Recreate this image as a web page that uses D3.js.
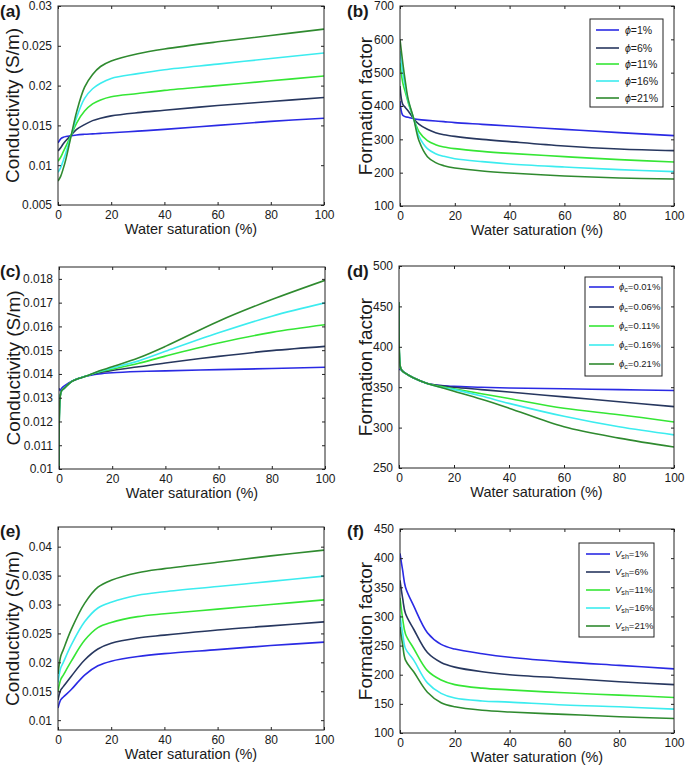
<!DOCTYPE html>
<html><head><meta charset="utf-8">
<script src="https://cdn.jsdelivr.net/npm/d3@7"></script>
<style>
body{margin:0;background:#fff}
text{font-family:"Liberation Sans",Arial,Helvetica,sans-serif;fill:#1a1a1a}
</style>
</head><body>
<svg id="chart" width="685" height="765"></svg>
<script>
// ---------- data ----------
const xTicks = [0, 20, 40, 60, 80, 100];

// (a) & (b): varying porosity
const swAB = [0, 1, 2, 3, 5, 7, 10, 13, 16, 20, 30, 40, 60, 80, 100];
const aPhi1  = [0.0128, 0.0133, 0.0135, 0.0136, 0.0137, 0.01380, 0.01388, 0.01394, 0.01400, 0.01408, 0.01428, 0.0145, 0.0150, 0.0155, 0.0159];
const aPhi6  = [0.0118, 0.0122, 0.0127, 0.0131, 0.0138, 0.0145, 0.0151, 0.0156, 0.0159, 0.0162, 0.0166, 0.0169, 0.0175, 0.0180, 0.0185];
const aPhi11 = [0.0105, 0.0110, 0.0117, 0.0124, 0.0138, 0.0153, 0.0168, 0.0177, 0.0182, 0.0186, 0.0190, 0.0194, 0.0200, 0.0206, 0.0212];
const aPhi16 = [0.0091, 0.0097, 0.0106, 0.0116, 0.0138, 0.0160, 0.0184, 0.0196, 0.0203, 0.0209, 0.0215, 0.0220, 0.0227, 0.0234, 0.0241];
const aPhi21 = [0.0080, 0.0086, 0.0096, 0.0108, 0.0138, 0.0167, 0.0198, 0.0214, 0.0224, 0.0231, 0.0240, 0.0246, 0.0255, 0.0263, 0.0271];
const aYTicks = [0.005, 0.01, 0.015, 0.02, 0.025, 0.03];

const bPhi1  = [415, 372, 368, 366, 362, 359, 357, 355, 353, 350, 345, 340, 330, 320, 311];
const bPhi6  = [460, 405, 395, 385, 362, 345, 330, 320, 314, 309, 300, 293, 280, 271, 266];
const bPhi11 = [530, 470, 440, 410, 362, 322, 296, 284, 277, 272, 264, 258, 248, 239, 232];
const bPhi16 = [565, 500, 455, 415, 362, 308, 272, 257, 249, 242, 233, 226, 217, 209, 203];
const bPhi21 = [600, 530, 470, 420, 362, 294, 248, 230, 221, 214, 205, 199, 190, 184, 181];
const bYTicks = [100, 200, 300, 400, 500, 600, 700];
const bLegend = ["1%", "6%", "11%", "16%", "21%"];

// (c) & (d): varying crack porosity
const swCD = [0, 0.5, 1, 2, 5, 10, 15, 20, 30, 40, 60, 80, 100];
const cPc01 = [0.0134, 0.0133, 0.0134, 0.0135, 0.0137, 0.0139, 0.01400, 0.01405, 0.01410, 0.01413, 0.01418, 0.01423, 0.01428];
const cPc06 = [0.0100, 0.0131, 0.0133, 0.0134, 0.0137, 0.0139, 0.01405, 0.01415, 0.01430, 0.01446, 0.01474, 0.01498, 0.01516];
const cPc11 = [0.0100, 0.0131, 0.0133, 0.0134, 0.0137, 0.0139, 0.01408, 0.01420, 0.01445, 0.01475, 0.01530, 0.01575, 0.01607];
const cPc16 = [0.0100, 0.0131, 0.0133, 0.0134, 0.0137, 0.0139, 0.01410, 0.01425, 0.01455, 0.01495, 0.01573, 0.01643, 0.01699];
const cPc21 = [0.0100, 0.0131, 0.0133, 0.0134, 0.0137, 0.0139, 0.01412, 0.01430, 0.01468, 0.01516, 0.01622, 0.01713, 0.01794];
const cYTicks = [0.01, 0.011, 0.012, 0.013, 0.014, 0.015, 0.016, 0.017, 0.018];

const dPc01 = [372, 372, 371, 368, 362, 355, 352, 351, 350, 349, 348, 347, 346];
const dPc06 = [455, 375, 371, 368, 362, 355, 352, 350, 347, 344, 338, 332, 326];
const dPc11 = [455, 375, 371, 368, 362, 355, 351, 348, 342, 336, 324, 316, 307];
const dPc16 = [455, 375, 371, 368, 362, 355, 350, 347, 339, 330, 314, 301, 291];
const dPc21 = [455, 375, 371, 368, 362, 355, 350, 345, 335, 324, 301, 287, 276];
const dYTicks = [250, 300, 350, 400, 450, 500];
const dLegend = ["0.01%", "0.06%", "0.11%", "0.16%", "0.21%"];

// (e) & (f): varying shale volume
const swEF = [0, 1, 2, 5, 10, 15, 20, 30, 40, 60, 80, 100];
const eVsh1  = [0.0121, 0.0135, 0.0140, 0.0153, 0.0178, 0.0194, 0.0202, 0.0210, 0.0215, 0.0222, 0.0229, 0.0235];
const eVsh6  = [0.0135, 0.0152, 0.0158, 0.0176, 0.0204, 0.0223, 0.0233, 0.0242, 0.0247, 0.0256, 0.0263, 0.0270];
const eVsh11 = [0.0150, 0.0170, 0.0178, 0.0202, 0.0238, 0.0260, 0.0269, 0.0279, 0.0284, 0.0292, 0.0300, 0.0308];
const eVsh16 = [0.0165, 0.0190, 0.0200, 0.0230, 0.0270, 0.0294, 0.0304, 0.0316, 0.0322, 0.0331, 0.0340, 0.0349];
const eVsh21 = [0.0180, 0.0210, 0.0222, 0.0257, 0.0302, 0.0330, 0.0342, 0.0355, 0.0362, 0.0373, 0.0384, 0.0394];
const eYTicks = [0.01, 0.015, 0.02, 0.025, 0.03, 0.035, 0.04];

const fVsh1  = [408, 378, 350, 318, 272, 252, 244, 236, 230, 222, 216, 210];
const fVsh6  = [362, 330, 305, 278, 238, 221, 213, 205, 200, 194, 188, 183];
const fVsh11 = [332, 295, 270, 245, 207, 191, 183, 177, 174, 169, 165, 161];
const fVsh16 = [302, 270, 245, 225, 186, 168, 160, 155, 153, 148, 145, 141];
const fVsh21 = [282, 250, 225, 205, 170, 152, 145, 139, 136, 132, 128, 125];
const fYTicks = [100, 150, 200, 250, 300, 350, 400, 450];
const fLegend = ["1%", "6%", "11%", "16%", "21%"];

const colors = ["#2a2ae4", "#27375f", "#35e635", "#3cecef", "#2f8a2f"];

// ---------- drawing ----------
const svg = d3.select("#chart");

const panels = [
  {tag:"(a)", box:[58,6,324,205], xs:swAB, series:[aPhi1,aPhi6,aPhi11,aPhi16,aPhi21], ydom:[0.005,0.03], yt:aYTicks,
   ytitle:"Conductivity (S/m)", ytx:19, tagX:0, tagY:17},
  {tag:"(b)", box:[400,6,674,206], xs:swAB, series:[bPhi1,bPhi6,bPhi11,bPhi16,bPhi21], ydom:[100,700], yt:bYTicks,
   ytitle:"Formation factor", ytx:372, tagX:347, tagY:17,
   legend:{labels:bLegend, kind:"phi", box:[590,19,663,107], lx:[596,619], tx:625, rows:[30,48,64,81,98], fs:10.5}},
  {tag:"(c)", box:[59,267,325,469], xs:swCD, series:[cPc01,cPc06,cPc11,cPc16,cPc21], ydom:[0.01,0.0185], yt:cYTicks,
   ytitle:"Conductivity (S/m)", ytx:20, tagX:0, tagY:277},
  {tag:"(d)", box:[399,266,674,468], xs:swCD, series:[dPc01,dPc06,dPc11,dPc16,dPc21], ydom:[250,500], yt:dYTicks,
   ytitle:"Formation factor", ytx:372, tagX:347, tagY:277,
   legend:{labels:dLegend, kind:"phic", box:[585,277,662,376], lx:[589,614], tx:619, rows:[287,307,326,345,364], fs:9.5}},
  {tag:"(e)", box:[58,527,324,730], xs:swEF, series:[eVsh1,eVsh6,eVsh11,eVsh16,eVsh21], ydom:[0.0083,0.0434], yt:eYTicks,
   ytitle:"Conductivity (S/m)", ytx:19, tagX:0, tagY:537},
  {tag:"(f)", box:[400,529,674,733], xs:swEF, series:[fVsh1,fVsh6,fVsh11,fVsh16,fVsh21], ydom:[100,450], yt:fYTicks,
   ytitle:"Formation factor", ytx:372, tagX:347, tagY:537,
   legend:{labels:fLegend, kind:"vsh", box:[579,543,654,637], lx:[586,610], tx:615, rows:[554,572,590,608,626], fs:9.5}}
];

panels.forEach((p, pi) => {
  const [L, T, R, B] = p.box;
  const g = svg.append("g");
  const x = d3.scaleLinear().domain([0, 100]).range([L, R]);
  const y = d3.scaleLinear().domain(p.ydom).range([B, T]);

  const cid = "clip" + pi;
  svg.append("clipPath").attr("id", cid).append("rect")
    .attr("x", L).attr("y", T - 1).attr("width", R - L).attr("height", B - T + 2);

  // series lines
  const line = d3.line().x(d => x(d[0])).y(d => y(d[1])).curve(d3.curveCatmullRom.alpha(0.5));
  p.series.forEach((s, i) => {
    g.append("path")
      .datum(s.map((v, j) => [p.xs[j], v]))
      .attr("d", line)
      .attr("fill", "none")
      .attr("stroke", colors[i])
      .attr("stroke-width", 1.6)
      .attr("clip-path", `url(#${cid})`);
  });

  // axes (ticks inward, mirrored)
  const fmt = d => String(d);
  const axB = g.append("g").attr("transform", `translate(0,${B})`)
    .call(d3.axisBottom(x).tickValues(xTicks).tickSizeInner(-3).tickSizeOuter(0).tickPadding(5).tickFormat(fmt));
  const axL = g.append("g").attr("transform", `translate(${L},0)`)
    .call(d3.axisLeft(y).tickValues(p.yt).tickSizeInner(-3).tickSizeOuter(0).tickPadding(6).tickFormat(fmt));
  const axT = g.append("g").attr("transform", `translate(0,${T})`)
    .call(d3.axisTop(x).tickValues(xTicks).tickSizeInner(-3).tickSizeOuter(0).tickFormat(""));
  const axR = g.append("g").attr("transform", `translate(${R},0)`)
    .call(d3.axisRight(y).tickValues(p.yt).tickSizeInner(-3).tickSizeOuter(0).tickFormat(""));
  [axB, axL, axT, axR].forEach(a => {
    a.select(".domain").remove();
    a.selectAll("line").attr("stroke", "#222");
    a.selectAll("text").attr("font-size", 12).attr("font-family", '"Liberation Sans",Arial,sans-serif').attr("fill", "#1a1a1a");
  });

  // frame
  g.append("rect").attr("x", L).attr("y", T).attr("width", R - L).attr("height", B - T)
    .attr("fill", "none").attr("stroke", "#222").attr("stroke-width", 1);

  // titles
  g.append("text").attr("x", (L + R) / 2).attr("y", B + 29).attr("text-anchor", "middle")
    .attr("font-size", 14.5).text("Water saturation (%)");
  g.append("text").attr("transform", `translate(${p.ytx},${(T + B) / 2}) rotate(-90)`)
    .attr("text-anchor", "middle").attr("font-size", 19).text(p.ytitle);
  g.append("text").attr("x", p.tagX).attr("y", p.tagY).attr("font-size", 17).attr("font-weight", "bold").text(p.tag);

  // legend
  if (p.legend) {
    const lg = p.legend;
    const [x0, y0, x1, y1] = lg.box;
    g.append("rect").attr("x", x0).attr("y", y0).attr("width", x1 - x0).attr("height", y1 - y0)
      .attr("fill", "#fff").attr("stroke", "#222").attr("stroke-width", 1);
    lg.labels.forEach((lab, i) => {
      const ry = lg.rows[i];
      g.append("line").attr("x1", lg.lx[0]).attr("x2", lg.lx[1]).attr("y1", ry).attr("y2", ry)
        .attr("stroke", colors[i]).attr("stroke-width", 1.6);
      const t = g.append("text").attr("x", lg.tx).attr("y", ry).attr("dy", "0.35em").attr("font-size", lg.fs);
      if (lg.kind === "phi") {
        t.append("tspan").attr("font-style", "italic").text("\u03D5");
        t.append("tspan").text("=" + lab);
      } else if (lg.kind === "phic") {
        t.append("tspan").attr("font-style", "italic").text("\u03D5");
        t.append("tspan").attr("font-size", lg.fs * 0.75).attr("dy", "0.3em").text("c");
        t.append("tspan").attr("dy", "-0.25em").text("=" + lab);
      } else {
        t.append("tspan").attr("font-style", "italic").text("V");
        t.append("tspan").attr("font-size", lg.fs * 0.75).attr("dy", "0.3em").text("sh");
        t.append("tspan").attr("dy", "-0.25em").text("=" + lab);
      }
    });
  }
});
</script>
</body></html>
